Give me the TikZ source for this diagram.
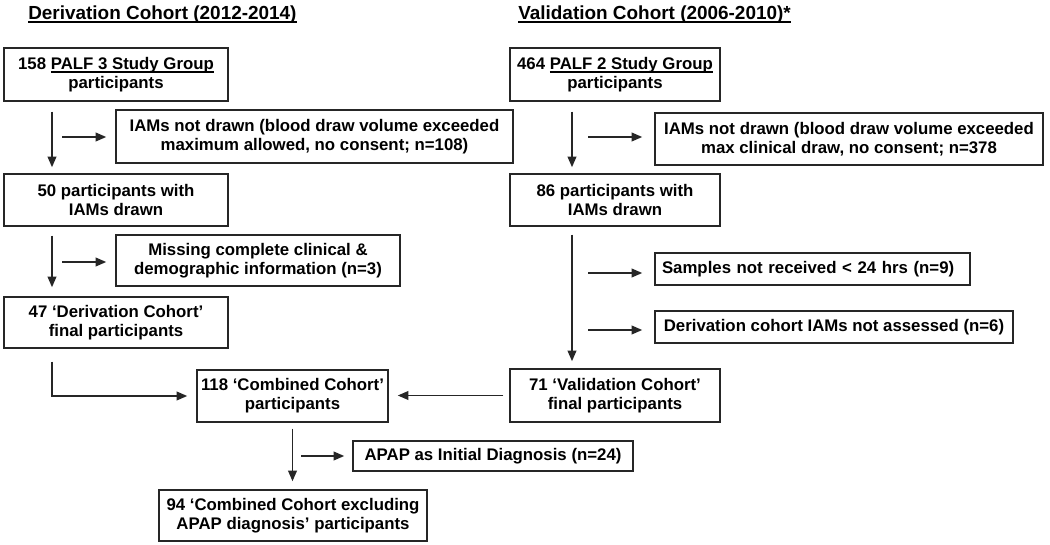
\documentclass[tikz,border=0pt]{standalone}
\usepackage{fontspec}
\setmainfont{Liberation Sans}
\usetikzlibrary{arrows.meta}
\newsavebox\ulbox
\newcommand{\ulx}[2][0.8pt]{\sbox\ulbox{#2}\rlap{\raisebox{-2.4pt}{\rule{\wd\ulbox}{#1}}}\usebox\ulbox}
\begin{document}
\begin{tikzpicture}[x=0.75pt,y=-0.75pt,
  sz/.style n args={2}{minimum width=#1*0.75pt, minimum height=#2*0.75pt},
  box/.style={draw=black!85, line width=1.1pt, font=\fontsize{12.6}{14.25}\selectfont\bfseries, align=center, inner sep=0pt},
  lbox/.style={box, align=left, inner xsep=5.25pt},
  title/.style={font=\fontsize{14.2}{16}\selectfont\bfseries, inner sep=0pt},
  arr/.style={draw=black!85, line width=1.4pt, -{Triangle[length=8pt,width=6.5pt]}}]
\useasboundingbox (0,0) rectangle (1050,545);

% titles
\node[title, anchor=base west] (t1) at (28,19.5) {\ulx[1.1pt]{Derivation Cohort (2012-2014)}};
\node[title, anchor=base west] (t2) at (518,19.5) {\ulx[1.1pt]{Validation Cohort (2006-2010)*}};

% left column
\node[box, sz={224}{53}] (A1) at (116,74.5) {158 \ulx{PALF 3 Study Group}\\participants};
\node[box, sz={397}{53}] (A2) at (314.5,136.5) {IAMs not drawn (blood draw volume exceeded\\maximum allowed, no consent; n=108)};
\node[box, sz={224}{52}] (A3) at (116,200) {50 participants with\\IAMs drawn};
\node[box, sz={284}{51}] (A4) at (258,260.5) {Missing complete clinical \&\\demographic information (n=3)};
\node[box, sz={224}{51}] (A5) at (116,322.5) {47 ‘Derivation Cohort’\\final participants};

% combined
\node[box, sz={191}{52}] (C1) at (292.5,396) {118 ‘Combined Cohort’\\participants};
\node[box, sz={280}{30}] (C2) at (493,456) {APAP as Initial Diagnosis (n=24)};
\node[box, sz={268}{51}] (C3) at (293,515.5) {94 ‘Combined Cohort excluding\\APAP diagnosis’ participants};

% right column
\node[box, sz={210}{53}] (B1) at (615,74.5) {464 \ulx{PALF 2 Study Group}\\participants};
\node[box, sz={388}{52}] (B2) at (849,139) {IAMs not drawn (blood draw volume exceeded\\max clinical draw, no consent; n=378};
\node[box, sz={210}{52}] (B3) at (615,200) {86 participants with\\IAMs drawn};
\node[lbox, minimum height=32*0.75pt, text width=301*0.75pt] (B4) at (812.5,269) {Samples not received < 24 hrs (n=9)};
\node[box, sz={358}{32}] (B5) at (834,327) {Derivation cohort IAMs not assessed (n=6)};
\node[box, sz={210}{53}] (B6) at (615,395.5) {71 ‘Validation Cohort’\\final participants};

% helper coordinates
\coordinate (vl) at (52,0);
\coordinate (vr) at (572,0);
\coordinate (h1) at (62,137);
\coordinate (h2) at (62,262);
\coordinate (h3) at (301,456);
\coordinate (h4) at (588,137);
\coordinate (h5) at (588,273);
\coordinate (h6) at (588,330);

% left arrows
\draw[arr, shorten <=7.5pt, shorten >=4.5pt] (A1.south -| vl) -- (A3.north -| vl);
\draw[arr, shorten >=6.75pt] (h1) -- (h1 -| A2.west);
\draw[arr, shorten <=6.75pt, shorten >=6.75pt] (A3.south -| vl) -- (A5.north -| vl);
\draw[arr, shorten >=6.75pt] (h2) -- (h2 -| A4.west);
\draw[arr, shorten <=9.75pt, shorten >=6.75pt] (A5.south -| vl) |- (C1.west);

% combined arrows
\draw[arr, shorten <=4.5pt, shorten >=6.75pt] (B6.west) -- (B6.west -| C1.east);
\draw[arr, shorten <=4.5pt, shorten >=6pt] (C1.south) -- (C1.south |- C3.north);
\draw[arr, shorten >=6pt] (h3) -- (h3 -| C2.west);

% right arrows
\draw[arr, shorten <=7.5pt, shorten >=4.5pt] (B1.south -| vr) -- (B3.north -| vr);
\draw[arr, shorten >=9pt] (h4) -- (h4 -| B2.west);
\draw[arr, shorten <=6pt, shorten >=5.25pt] (B3.south -| vr) -- (B6.north -| vr);
\draw[arr, shorten >=9pt] (h5) -- (h5 -| B4.west);
\draw[arr, shorten >=9pt] (h6) -- (h6 -| B5.west);
\end{tikzpicture}
\end{document}
